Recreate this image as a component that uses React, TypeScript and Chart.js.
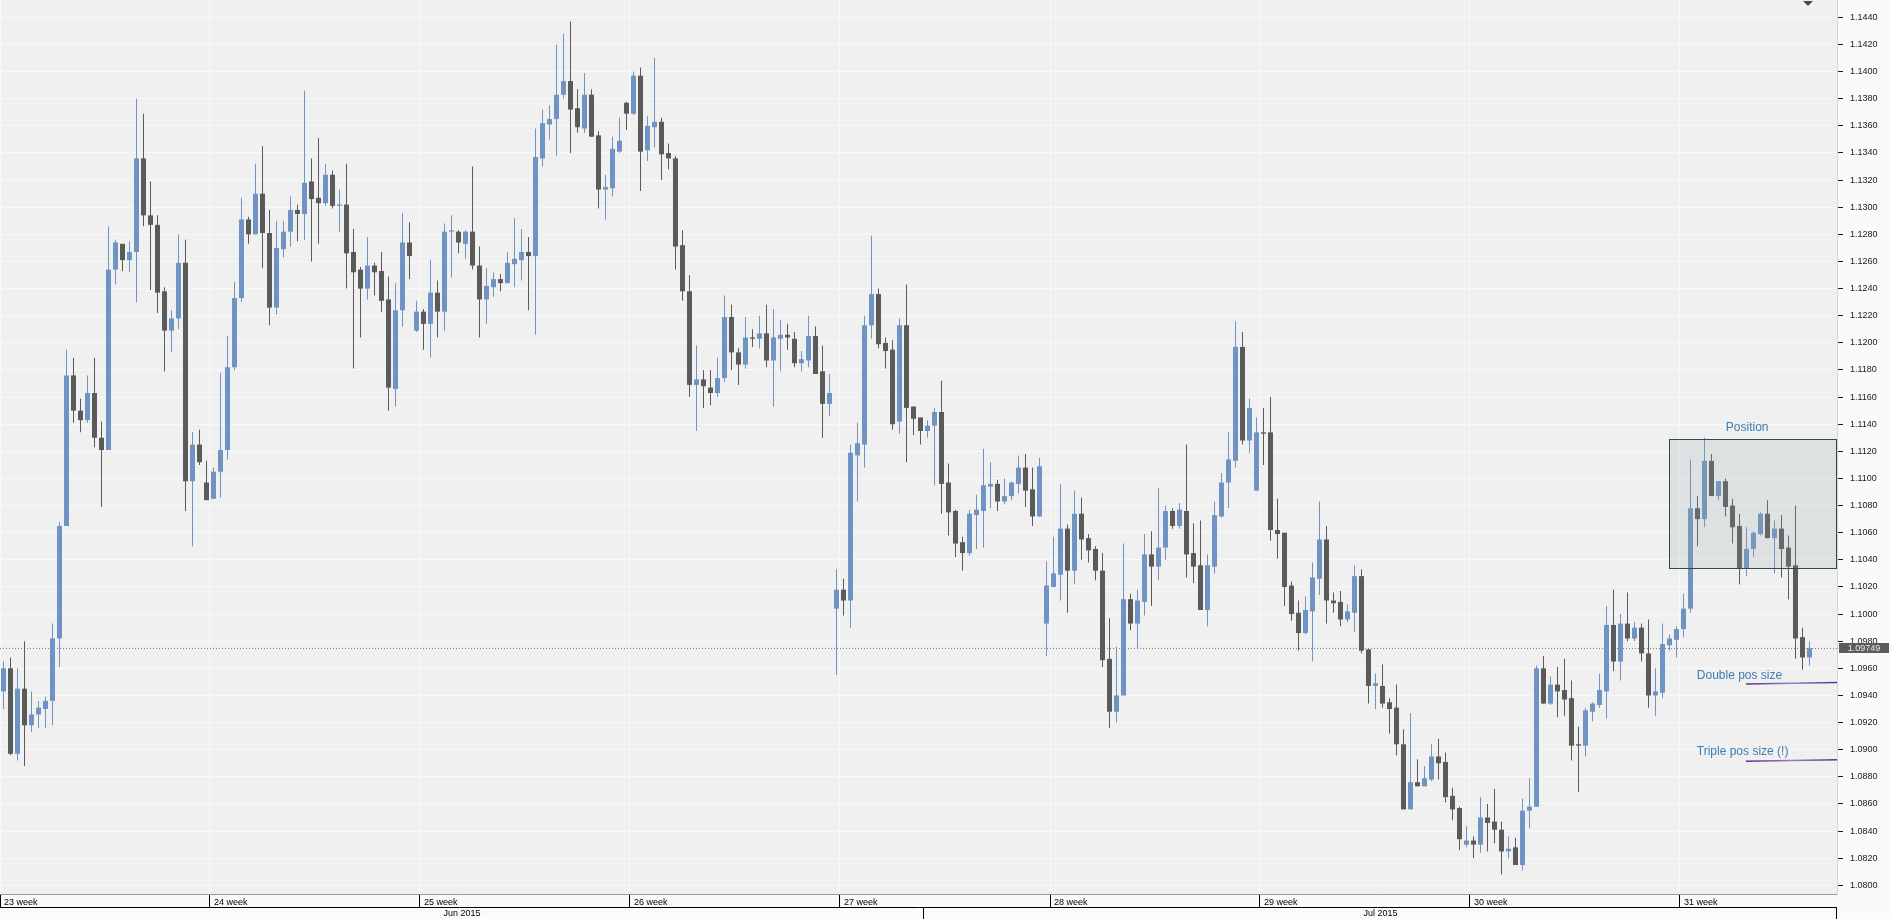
import React, { useEffect, useRef } from 'react';
import { Chart, registerables } from 'chart.js';
Chart.register(...registerables);

// ---- data (4H EURUSD candles, week 23 .. week 31 of 2015) ----
const opens = [
  1.0943,1.0960,1.0897,1.0945,1.0918,1.0926,1.0930,1.0936,1.0982,1.1065,
  1.1176,1.1150,1.1143,1.1163,1.1130,1.1121,1.1254,1.1273,1.1261,1.1267,
  1.1336,1.1294,1.1287,1.1238,1.1209,1.1218,1.1259,1.1098,1.1125,1.1097,
  1.1085,1.1105,1.1121,1.1182,1.1233,1.1291,1.1280,1.1310,1.1281,1.1226,
  1.1269,1.1282,1.1298,1.1295,1.1319,1.1307,1.1303,1.1324,1.1301,1.1302,
  1.1267,1.1254,1.1240,1.1257,1.1253,1.1232,1.1166,1.1224,1.1274,1.1209,
  1.1223,1.1214,1.1237,1.1223,1.1282,1.1282,1.1273,1.1282,1.1257,1.1232,
  1.1241,1.1247,1.1244,1.1258,1.1261,1.1267,1.1264,1.1336,1.1361,1.1365,
  1.1383,1.1393,1.1373,1.1358,1.1383,1.1353,1.1313,1.1314,1.1341,1.1377,
  1.1369,1.1397,1.1342,1.1359,1.1363,1.1340,1.1336,1.1272,1.1238,1.1169,
  1.1173,1.1167,1.1163,1.1174,1.1219,1.1193,1.1184,1.1204,1.1203,1.1207,
  1.1187,1.1203,1.1206,1.1203,1.1185,1.1187,1.1205,1.1179,1.1155,1.1004,
  1.1018,1.1010,1.1117,1.1125,1.1213,1.1236,1.1200,1.1195,1.1142,1.1213,
  1.1153,1.1145,1.1135,1.1139,1.1149,1.1097,1.1076,1.1053,1.1045,1.1073,
  1.1076,1.1094,1.1096,1.1083,1.1087,1.1096,1.1108,1.1092,1.1072,1.0993,
  1.1020,1.1029,1.1063,1.1032,1.1074,1.1056,1.1048,1.1032,1.0967,1.0928,
  1.0940,1.1011,1.0993,1.1009,1.1044,1.1035,1.1049,1.1076,1.1065,1.1076,
  1.1045,1.1036,1.1003,1.1035,1.1072,1.1097,1.1113,1.1197,1.1128,1.1091,
  1.1134,1.1134,1.1062,1.1060,1.1021,1.1001,1.0986,1.1002,1.1026,1.1055,
  1.1010,1.1009,1.0996,1.1001,1.1028,1.0974,1.0947,1.0947,1.0935,1.0931,
  1.0904,1.0856,1.0876,1.0873,1.0878,1.0895,1.0891,1.0866,1.0857,1.0830,
  1.0833,1.0830,1.0850,1.0847,1.0841,1.0825,1.0828,1.0815,1.0855,1.0858,
  1.0960,1.0934,1.0948,1.0944,1.0938,1.0904,1.0903,1.0928,1.0933,1.0943,
  1.0992,1.0965,1.0993,1.0982,1.0990,1.0971,1.0940,1.0942,1.0977,1.0981,
  1.0989,1.1004,1.1078,1.1070,1.1113,1.1087,1.1098,1.1080,1.1065,1.1034,
  1.1048,1.1059,1.1074,1.1056,1.1063,1.1049,1.1036,1.0983,1.0968,
];
const highs = [
  1.0965,1.0968,1.0960,1.0980,1.0943,1.0936,1.0939,1.0993,1.1068,1.1195,
  1.1189,1.1159,1.1176,1.1189,1.1142,1.1286,1.1276,1.1273,1.1275,1.1380,
  1.1369,1.1319,1.1294,1.1241,1.1224,1.1280,1.1276,1.1134,1.1136,1.1113,
  1.1108,1.1178,1.1205,1.1245,1.1307,1.1293,1.1332,1.1345,1.1298,1.1290,
  1.1290,1.1308,1.1302,1.1386,1.1336,1.1351,1.1332,1.1327,1.1313,1.1332,
  1.1284,1.1256,1.1278,1.1259,1.1267,1.1249,1.1244,1.1296,1.1289,1.1231,
  1.1225,1.1261,1.1246,1.1288,1.1294,1.1283,1.1283,1.1330,1.1271,1.1255,
  1.1252,1.1251,1.1267,1.1292,1.1284,1.1278,1.1358,1.1372,1.1375,1.1420,
  1.1428,1.1437,1.1387,1.1399,1.1387,1.1356,1.1324,1.1352,1.1366,1.1378,
  1.1400,1.1403,1.1367,1.1410,1.1366,1.1347,1.1338,1.1283,1.1250,1.1198,
  1.1180,1.1180,1.1189,1.1235,1.1228,1.1196,1.1219,1.1210,1.1220,1.1228,
  1.1225,1.1217,1.1214,1.1208,1.1194,1.1220,1.1212,1.1198,1.1177,1.1033,
  1.1026,1.1125,1.1141,1.1220,1.1279,1.1240,1.1204,1.1202,1.1218,1.1243,
  1.1153,1.1145,1.1143,1.1152,1.1172,1.1111,1.1077,1.1057,1.1077,1.1088,
  1.1122,1.1112,1.1099,1.1100,1.1098,1.1117,1.1118,1.1108,1.1115,1.1039,
  1.1057,1.1096,1.1066,1.1091,1.1086,1.1059,1.1050,1.1045,1.0997,1.0976,
  1.1052,1.1015,1.1018,1.1059,1.1061,1.1093,1.1080,1.1078,1.1082,1.1125,
  1.1067,1.1069,1.1044,1.1083,1.1104,1.1134,1.1216,1.1208,1.1159,1.1145,
  1.1152,1.1160,1.1085,1.1060,1.1024,1.1010,1.1013,1.1038,1.1083,1.1065,
  1.1016,1.1017,1.1007,1.1036,1.1033,1.0974,1.0956,1.0963,1.0938,1.0948,
  1.0915,1.0927,1.0893,1.0888,1.0904,1.0908,1.0898,1.0872,1.0858,1.0844,
  1.0836,1.0865,1.0860,1.0871,1.0847,1.0836,1.0835,1.0864,1.0879,1.0962,
  1.0969,1.0954,1.0961,1.0967,1.0951,1.0917,1.0931,1.0935,1.0956,1.1006,
  1.1018,1.1000,1.1016,1.0994,1.0993,1.0996,1.0960,1.0993,1.0985,1.0991,
  1.1015,1.1114,1.1087,1.1130,1.1118,1.1098,1.1100,1.1085,1.1074,1.1064,
  1.1061,1.1075,1.1084,1.1069,1.1073,1.1058,1.1080,1.0990,1.0980,
];
const lows = [
  1.0930,1.0896,1.0892,1.0888,1.0913,1.0916,1.0916,1.0918,1.0961,1.1065,
  1.1141,1.1134,1.1141,1.1123,1.1079,1.1121,1.1243,1.1253,1.1252,1.1230,
  1.1286,1.1239,1.1222,1.1179,1.1193,1.1210,1.1076,1.1050,1.1110,1.1084,
  1.1085,1.1086,1.1114,1.1180,1.1230,1.1273,1.1280,1.1255,1.1213,1.1221,
  1.1263,1.1271,1.1275,1.1276,1.1260,1.1273,1.1301,1.1299,1.1282,1.1240,
  1.1181,1.1204,1.1232,1.1235,1.1223,1.1150,1.1153,1.1212,1.1247,1.1208,
  1.1195,1.1189,1.1204,1.1209,1.1248,1.1266,1.1262,1.1254,1.1204,1.1214,
  1.1234,1.1238,1.1244,1.1241,1.1246,1.1224,1.1206,1.1330,1.1350,1.1338,
  1.1380,1.1340,1.1355,1.1355,1.1352,1.1299,1.1291,1.1308,1.1340,1.1357,
  1.1368,1.1312,1.1334,1.1344,1.1320,1.1328,1.1254,1.1231,1.1160,1.1135,
  1.1152,1.1154,1.1160,1.1171,1.1180,1.1169,1.1181,1.1197,1.1196,1.1182,
  1.1153,1.1179,1.1195,1.1182,1.1179,1.1182,1.1177,1.1130,1.1146,1.0955,
  1.0999,1.0990,1.1083,1.1108,1.1203,1.1196,1.1181,1.1136,1.1133,1.1112,
  1.1132,1.1125,1.1130,1.1095,1.1074,1.1058,1.1042,1.1032,1.1043,1.1048,
  1.1049,1.1078,1.1076,1.1081,1.1084,1.1089,1.1079,1.1065,1.1072,1.0969,
  1.1020,1.1010,1.1001,1.1022,1.1040,1.1038,1.1025,1.0961,1.0916,1.0920,
  1.0940,1.0988,1.0974,1.0999,1.1006,1.1025,1.1040,1.1063,1.1063,1.1027,
  1.1023,1.1003,1.0991,1.1030,1.1071,1.1078,1.1108,1.1125,1.1119,1.1091,
  1.1110,1.1054,1.1041,1.1006,1.0995,1.0973,1.0985,1.0965,1.1014,1.0993,
  1.1001,1.0991,1.0994,1.0987,1.0971,1.0934,1.0930,1.0931,1.0912,1.0896,
  1.0856,1.0856,1.0873,1.0873,1.0877,1.0878,1.0861,1.0848,1.0826,1.0828,
  1.0820,1.0824,1.0825,1.0831,1.0808,1.0820,1.0815,1.0811,1.0842,1.0858,
  1.0934,1.0933,1.0924,1.0925,1.0892,1.0869,1.0895,1.0921,1.0931,1.0923,
  1.0958,1.0951,1.0980,1.0980,1.0965,1.0931,1.0925,1.0938,1.0973,1.0968,
  1.0983,1.1001,1.1050,1.1064,1.1087,1.1084,1.1072,1.1052,1.1022,1.1028,
  1.1042,1.1058,1.1056,1.1030,1.1027,1.1011,1.0967,1.0959,1.0962,
];
const closes = [
  1.0960,1.0897,1.0945,1.0918,1.0926,1.0931,1.0936,1.0982,1.1065,1.1176,
  1.1150,1.1143,1.1163,1.1130,1.1121,1.1254,1.1274,1.1261,1.1267,1.1336,
  1.1294,1.1287,1.1237,1.1209,1.1218,1.1259,1.1098,1.1125,1.1112,1.1084,
  1.1105,1.1121,1.1182,1.1233,1.1291,1.1280,1.1310,1.1281,1.1226,1.1270,
  1.1282,1.1298,1.1295,1.1318,1.1306,1.1303,1.1324,1.1301,1.1302,1.1266,
  1.1252,1.1240,1.1257,1.1252,1.1231,1.1167,1.1224,1.1274,1.1264,1.1223,
  1.1214,1.1237,1.1223,1.1282,1.1283,1.1274,1.1282,1.1257,1.1232,1.1242,
  1.1247,1.1244,1.1259,1.1262,1.1267,1.1264,1.1337,1.1362,1.1365,1.1383,
  1.1393,1.1372,1.1359,1.1383,1.1352,1.1313,1.1315,1.1343,1.1349,1.1369,
  1.1397,1.1341,1.1360,1.1363,1.1339,1.1336,1.1271,1.1238,1.1169,1.1173,
  1.1168,1.1163,1.1174,1.1219,1.1193,1.1184,1.1204,1.1203,1.1207,1.1187,
  1.1204,1.1206,1.1204,1.1185,1.1188,1.1205,1.1177,1.1155,1.1163,1.1018,
  1.1010,1.1119,1.1126,1.1213,1.1236,1.1199,1.1194,1.1140,1.1213,1.1152,
  1.1144,1.1135,1.1139,1.1149,1.1096,1.1075,1.1052,1.1045,1.1074,1.1077,
  1.1095,1.1096,1.1083,1.1087,1.1097,1.1108,1.1091,1.1072,1.1109,1.1021,
  1.1030,1.1063,1.1032,1.1074,1.1055,1.1047,1.1032,1.0966,1.0928,1.0940,
  1.1011,1.0993,1.1010,1.1044,1.1035,1.1049,1.1076,1.1065,1.1077,1.1044,
  1.1035,1.1003,1.1036,1.1073,1.1097,1.1114,1.1197,1.1128,1.1152,1.1134,
  1.1133,1.1062,1.1059,1.1020,1.1000,1.0986,1.1003,1.1027,1.1055,1.1010,
  1.1008,1.0996,1.1002,1.1028,1.0973,1.0947,1.0949,1.0934,1.0930,1.0904,
  1.0856,1.0876,1.0873,1.0879,1.0895,1.0890,1.0865,1.0856,1.0834,1.0833,
  1.0830,1.0850,1.0846,1.0841,1.0825,1.0827,1.0815,1.0855,1.0858,1.0960,
  1.0934,1.0948,1.0943,1.0937,1.0903,1.0903,1.0929,1.0934,1.0944,1.0992,
  1.0965,1.0993,1.0982,1.0990,1.0971,1.0940,1.0943,1.0978,1.0982,1.0989,
  1.1004,1.1078,1.1070,1.1113,1.1087,1.1098,1.1079,1.1064,1.1034,1.1048,
  1.1060,1.1074,1.1056,1.1063,1.1048,1.1035,1.0982,1.0968,1.09749,
];

const weekLabels = ['23 week', '24 week', '25 week', '26 week', '27 week', '28 week', '29 week', '30 week', '31 week'];
const weekStartIdx = [0, 30, 60, 90, 120, 150, 180, 210, 240];
const monthLabels = ['Jun 2015', 'Jul 2015'];
const monthStartIdx = [0, 132];
const yTickLabels = [
  '1.0800','1.0820','1.0840','1.0860','1.0880','1.0900','1.0920','1.0940','1.0960','1.0980',
  '1.1000','1.1020','1.1040','1.1060','1.1080','1.1100','1.1120','1.1140','1.1160','1.1180',
  '1.1200','1.1220','1.1240','1.1260','1.1280','1.1300','1.1320','1.1340','1.1360','1.1380',
  '1.1400','1.1420','1.1440',
];
const currentPrice = 1.09749;
const positionBox = { startIdx: 237.93, top: 1.1129, bottom: 1.1034, labelIdx: 249.1, labelValue: 1.11372 };
const sizeLines = [
  { label: 'Double pos size', value: 1.0949, lineStartIdx: 248.93, textIdx: 241.9, textValue: 1.09545 },
  { label: 'Triple pos size (!)', value: 1.0892, lineStartIdx: 248.93, textIdx: 241.9, textValue: 1.08985 },
];

// ---- styling ----
const BLUE = '#6f93c3';
const GRAY = '#5a5a5a';
const FONT = "'Liberation Sans', Arial, sans-serif";
const PLOT_W = 1837;
const SLOT = 7;

const candleColor = (i: number) => (closes[i] >= opens[i] ? BLUE : GRAY);

export default function App() {
  const ref = useRef<HTMLCanvasElement>(null);

  useEffect(() => {
    const canvas = ref.current!;
    const bodyData = opens.map((o, i) => ({ x: i, y: [o, closes[i]] }));
    const wickData = lows.map((l, i) => ({ x: i, y: [l, highs[i]] }));
    const yTickValues = yTickLabels.map((s) => parseFloat(s));

    const decor = {
      id: 'decor',
      beforeDraw(chart: any) {
        const { ctx, chartArea: a, width, height } = chart;
        ctx.save();
        ctx.fillStyle = '#fafafa';
        ctx.fillRect(0, 0, width, height);
        ctx.fillStyle = '#f0f0f0';
        ctx.fillRect(a.left, a.top, a.right - a.left, a.bottom - a.top);
        ctx.restore();
      },
      beforeDatasetsDraw(chart: any) {
        const { ctx, chartArea: a, scales } = chart;
        const y = Math.round(scales.y.getPixelForValue(currentPrice)) + 0.5;
        ctx.save();
        ctx.strokeStyle = '#808080';
        ctx.lineWidth = 1;
        ctx.setLineDash([1, 2]);
        ctx.beginPath();
        ctx.moveTo(a.left, y);
        ctx.lineTo(a.right, y);
        ctx.stroke();
        ctx.restore();
      },
      afterDatasetsDraw(chart: any) {
        const { ctx, chartArea: a, scales } = chart;
        const xs = scales.x, ys = scales.y;
        ctx.save();
        // position box
        const bx = Math.round(xs.getPixelForValue(positionBox.startIdx)) + 0.5;
        const by1 = Math.round(ys.getPixelForValue(positionBox.top)) + 0.5;
        const by2 = Math.round(ys.getPixelForValue(positionBox.bottom)) + 0.5;
        const bx2 = a.right - 0.5;
        ctx.fillStyle = 'rgba(150,165,165,0.2)';
        ctx.fillRect(bx, by1, bx2 - bx, by2 - by1);
        ctx.strokeStyle = '#2e4a4a';
        ctx.lineWidth = 1;
        ctx.strokeRect(bx, by1, bx2 - bx, by2 - by1);
        ctx.fillStyle = '#3b7db3';
        ctx.font = `12px ${FONT}`;
        ctx.textAlign = 'center';
        ctx.textBaseline = 'middle';
        ctx.fillText('Position', xs.getPixelForValue(positionBox.labelIdx), ys.getPixelForValue(positionBox.labelValue));
        // size lines
        for (const s of sizeLines) {
          const ly = ys.getPixelForValue(s.value);
          const lx = xs.getPixelForValue(s.lineStartIdx);
          const grad = ctx.createLinearGradient(lx, 0, a.right, 0);
          grad.addColorStop(0, '#5b2d8e');
          grad.addColorStop(0.5, '#9b7cc4');
          grad.addColorStop(1, '#5b2d8e');
          ctx.strokeStyle = grad;
          ctx.lineWidth = 1.5;
          ctx.beginPath();
          ctx.moveTo(lx, ly + 0.7);
          ctx.lineTo(a.right, ly - 0.7);
          ctx.stroke();
          ctx.fillStyle = '#3b7db3';
          ctx.textAlign = 'left';
          ctx.fillText(s.label, xs.getPixelForValue(s.textIdx), ys.getPixelForValue(s.textValue));
        }
        ctx.restore();
      },
      afterDraw(chart: any) {
        const { ctx, chartArea: a, scales, height } = chart;
        const xs = scales.x, ys = scales.y;
        ctx.save();
        // price label
        const py = Math.round(ys.getPixelForValue(currentPrice));
        ctx.fillStyle = '#5c5c5c';
        ctx.fillRect(a.right + 2, py - 5, 50, 10);
        ctx.fillStyle = '#e6e6e6';
        ctx.font = `9px ${FONT}`;
        ctx.textAlign = 'center';
        ctx.textBaseline = 'middle';
        ctx.fillText(currentPrice.toFixed(5), a.right + 27, py + 0.5);
        // month row
        const rowTop = a.bottom + 13;
        ctx.strokeStyle = '#000';
        ctx.lineWidth = 1;
        ctx.beginPath();
        ctx.moveTo(a.left, rowTop + 0.5);
        ctx.lineTo(a.right, rowTop + 0.5);
        const bounds = monthStartIdx.map((i) => xs.getPixelForValue(i - 0.5));
        bounds.push(a.right);
        for (let k = 1; k < bounds.length; k++) {
          const x = Math.round(bounds[k]) - 0.5;
          ctx.moveTo(x, rowTop);
          ctx.lineTo(x, height);
        }
        ctx.stroke();
        ctx.fillStyle = '#000';
        ctx.font = `9px ${FONT}`;
        for (let k = 0; k < monthLabels.length; k++) {
          ctx.fillText(monthLabels[k], (bounds[k] + bounds[k + 1]) / 2, rowTop + 6.5);
        }
        // top-right menu triangle
        ctx.fillStyle = '#4a4a4a';
        ctx.beginPath();
        ctx.moveTo(a.right - 34, 1);
        ctx.lineTo(a.right - 24, 1);
        ctx.lineTo(a.right - 29, 6);
        ctx.closePath();
        ctx.fill();
        ctx.restore();
      },
    };

    const chart = new Chart(canvas, {
      type: 'bar',
      data: {
        datasets: [
          {
            data: wickData as any,
            barThickness: 1,
            grouped: false,
            inflateAmount: 0,
            borderWidth: 0,
            order: 2,
            backgroundColor: (c: any) => candleColor(c.dataIndex),
          } as any,
          {
            data: bodyData as any,
            barThickness: 5,
            grouped: false,
            inflateAmount: 0,
            borderWidth: 0,
            minBarLength: 1,
            order: 1,
            backgroundColor: (c: any) => candleColor(c.dataIndex),
          } as any,
        ],
      },
      options: {
        responsive: false,
        maintainAspectRatio: false,
        devicePixelRatio: 1,
        animation: false,
        layout: { padding: 0 },
        plugins: { legend: { display: false }, tooltip: { enabled: false } },
        events: [],
        scales: {
          x: {
            type: 'linear',
            position: 'bottom',
            offset: false,
            bounds: 'data',
            min: -0.5,
            max: PLOT_W / SLOT - 0.5,
            afterBuildTicks: (s: any) => {
              s.ticks = weekStartIdx.map((i) => ({ value: i - 0.5 }));
            },
            afterFit: (s: any) => {
              s.height = 25;
              s.paddingLeft = 0;
              s.paddingRight = 0;
            },
            grid: {
              offset: false,
              color: '#f8f8f8',
              lineWidth: 1,
              drawTicks: true,
              tickLength: 13,
              tickColor: '#000',
            },
            border: { display: true, color: '#9a9a9a' },
            ticks: {
              autoSkip: false,
              maxRotation: 0,
              minRotation: 0,
              align: 'start',
              labelOffset: 4,
              padding: -10,
              color: '#000',
              font: { family: FONT, size: 9 },
              callback: (_v: any, i: number) => weekLabels[i],
            },
          } as any,
          y: {
            type: 'linear',
            position: 'right',
            bounds: 'data',
            min: 1.07936,
            max: 1.14528,
            afterBuildTicks: (s: any) => {
              s.ticks = yTickValues.map((v) => ({ value: v }));
            },
            afterFit: (s: any) => {
              s.width = 54;
              s.paddingTop = 0;
              s.paddingBottom = 0;
            },
            grid: {
              color: '#f8f8f8',
              lineWidth: 1,
              drawTicks: true,
              tickLength: 6,
              tickColor: '#1a1a1a',
            },
            border: { display: true, color: '#d4d4d4' },
            ticks: {
              padding: 7,
              color: '#1a1a1a',
              font: { family: FONT, size: 9 },
              callback: (_v: any, i: number) => yTickLabels[i],
            },
          } as any,
        },
      },
      plugins: [decor],
    });
    return () => chart.destroy();
  }, []);

  return (
    <div style={{ position: 'fixed', left: 0, top: 0, width: 1891, height: 919, background: '#fafafa' }}>
      <canvas ref={ref} width={1891} height={919} style={{ display: 'block', width: 1891, height: 919 }} />
    </div>
  );
}
